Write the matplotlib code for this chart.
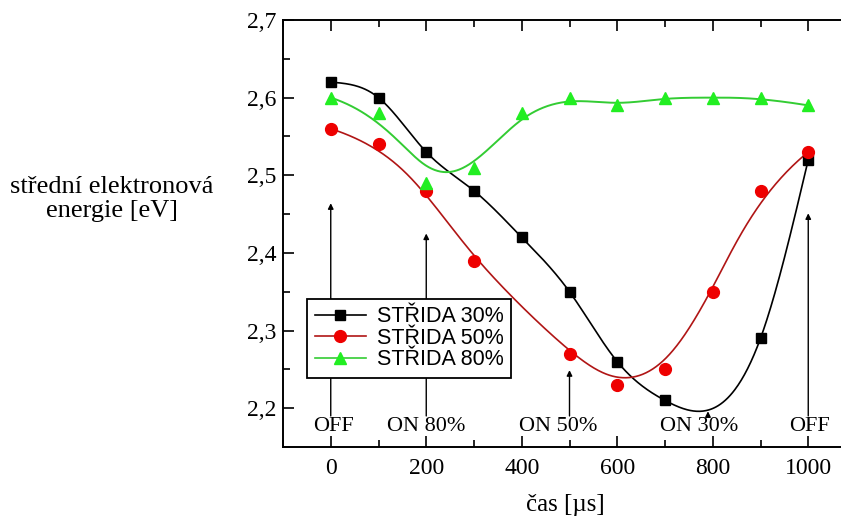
import numpy as np
import matplotlib
matplotlib.use("Agg")
import matplotlib.pyplot as plt
from matplotlib.ticker import MultipleLocator, FixedLocator, FixedFormatter

# ---- data ----
t30 = [0, 100, 200, 300, 400, 500, 600, 700, 900, 1000]
e30 = [2.62, 2.60, 2.53, 2.48, 2.42, 2.35, 2.26, 2.21, 2.29, 2.52]
t50 = [0, 100, 200, 300, 500, 600, 700, 800, 900, 1000]
e50 = [2.56, 2.54, 2.48, 2.39, 2.27, 2.23, 2.25, 2.35, 2.48, 2.53]
t80 = [0, 100, 200, 300, 400, 500, 600, 700, 800, 900, 1000]
e80 = [2.60, 2.58, 2.49, 2.51, 2.58, 2.60, 2.59, 2.60, 2.60, 2.60, 2.59]
labels = ["STŘIDA 30%", "STŘIDA 50%", "STŘIDA 80%"]

xticks = [0, 200, 400, 600, 800, 1000]
xtick_labels = ["0", "200", "400", "600", "800", "1000"]
yticks = [2.2, 2.3, 2.4, 2.5, 2.6, 2.7]
ytick_labels = ["2,2", "2,3", "2,4", "2,5", "2,6", "2,7"]

# annotations: (label, x of arrow, arrow tip y, text x)
marks = [("OFF", 0, 2.464, 6), ("ON 80%", 200, 2.425, 199),
         ("ON 50%", 500, 2.249, 476), ("ON 30%", 790, 2.196, 771),
         ("OFF", 1000, 2.451, 1002)]


def natural_spline(x, y, n=600):
    x = np.asarray(x, float); y = np.asarray(y, float)
    m = len(x); h = np.diff(x)
    A = np.zeros((m, m)); b = np.zeros(m)
    A[0, 0] = A[-1, -1] = 1
    for i in range(1, m - 1):
        A[i, i - 1] = h[i - 1]; A[i, i] = 2 * (h[i - 1] + h[i]); A[i, i + 1] = h[i]
        b[i] = 6 * ((y[i + 1] - y[i]) / h[i] - (y[i] - y[i - 1]) / h[i - 1])
    M = np.linalg.solve(A, b)
    xs = np.linspace(x[0], x[-1], n)
    idx = np.clip(np.searchsorted(x, xs) - 1, 0, m - 2)
    x0 = x[idx]; x1 = x[idx + 1]; hh = x1 - x0
    a = (x1 - xs) / hh; bb = (xs - x0) / hh
    ys = (a * y[idx] + bb * y[idx + 1]
          + ((a ** 3 - a) * M[idx] + (bb ** 3 - bb) * M[idx + 1]) * hh ** 2 / 6)
    return xs, ys


def bspline(x, y, n=600):
    P = np.column_stack([x, y]).astype(float)
    k = 3
    nc = len(P)
    inner = np.arange(1, nc - k)
    knots = np.concatenate([[0] * (k + 1), inner, [nc - k] * (k + 1)]).astype(float)
    ts = np.linspace(0, nc - k, n)
    ts[-1] -= 1e-9

    def basis(i, p, t):
        if p == 0:
            return np.where((knots[i] <= t) & (t < knots[i + 1]), 1.0, 0.0)
        d1 = knots[i + p] - knots[i]
        d2 = knots[i + p + 1] - knots[i + 1]
        r = np.zeros_like(t)
        if d1 > 0:
            r += (t - knots[i]) / d1 * basis(i, p - 1, t)
        if d2 > 0:
            r += (knots[i + p + 1] - t) / d2 * basis(i + 1, p - 1, t)
        return r

    B = np.array([basis(i, k, ts) for i in range(nc)])
    C = B.T @ P
    return C[:, 0], C[:, 1]


serif = "Liberation Serif"
fig = plt.figure(figsize=(8.41, 5.2), dpi=100)
ax = fig.add_axes([283 / 841, 1 - 447 / 520, 573 / 841, 427 / 520])

xs, ys = natural_spline(t30, e30)
ax.plot(xs, ys, color="black", lw=1.2, zorder=3)
ax.plot(t30, e30, ls="none", marker="s", ms=7, color="black", zorder=4)

xs, ys = bspline(t50, e50)
ax.plot(xs, ys, color="#b01515", lw=1.2, zorder=3)
ax.plot(t50, e50, ls="none", marker="o", ms=8.5, color="#ee0000", zorder=4)

xs, ys = bspline(t80, e80)
ax.plot(xs, ys, color="#33cc33", lw=1.4, zorder=3)
ax.plot(t80, e80, ls="none", marker="^", ms=8.5, color="#22ee22", zorder=4)

# legend proxies
h1, = ax.plot([], [], color="black", marker="s", ms=7, lw=1.2)
h2, = ax.plot([], [], color="#b01515", marker="o", ms=8.5, mfc="#ee0000", mec="#ee0000", lw=1.2)
h3, = ax.plot([], [], color="#33cc33", marker="^", ms=8.5, mfc="#22ee22", mec="#22ee22", lw=1.2)
leg = ax.legend([h1, h2, h3], labels, loc="lower left",
                bbox_to_anchor=(0.042, 0.162), borderaxespad=0,
                prop={"family": "Liberation Sans", "size": 15.5},
                frameon=True, fancybox=False, edgecolor="black", framealpha=1,
                handlelength=2.4, handletextpad=0.5, labelspacing=0.02,
                borderpad=0.35)
leg.get_frame().set_linewidth(1.3)
leg.set_zorder(10)

for lab, xa, tip, xt in marks:
    ax.annotate("", xy=(xa, tip), xytext=(xa, 2.19),
                arrowprops=dict(arrowstyle="-|>", color="black", lw=1.0,
                                mutation_scale=8, shrinkA=0, shrinkB=0), zorder=5)
    ax.text(xt, 2.177, lab, ha="center", va="center", fontsize=16,
            family=serif, zorder=6)

ax.set_xlim(-100, 1100)
ax.set_ylim(2.15, 2.7)
ax.xaxis.set_major_locator(FixedLocator(xticks))
ax.xaxis.set_major_formatter(FixedFormatter(xtick_labels))
ax.xaxis.set_minor_locator(MultipleLocator(100))
ax.yaxis.set_major_locator(FixedLocator(yticks))
ax.yaxis.set_major_formatter(FixedFormatter(ytick_labels))
ax.yaxis.set_minor_locator(MultipleLocator(0.05))
ax.tick_params(which="both", direction="in", top=True, right=False, width=1.2)
ax.tick_params(which="major", length=8)
ax.tick_params(which="minor", length=5)
ax.tick_params(axis="x", pad=8)
ax.tick_params(axis="y", pad=5)
for lbl in ax.get_xticklabels() + ax.get_yticklabels():
    lbl.set_family(serif)
    lbl.set_fontsize(17)
for s in ax.spines.values():
    s.set_linewidth(1.4)

fig.text(565 / 841, 1 - 505 / 520, "čas [µs]", ha="center", va="center",
         fontsize=18, family=serif)
fig.text(112 / 841, 1 - 199 / 520, "střední elektronová\nenergie [eV]",
         ha="center", va="center", multialignment="center", fontsize=19,
         family=serif, linespacing=1.1)

fig.savefig("out.png", dpi=100)
